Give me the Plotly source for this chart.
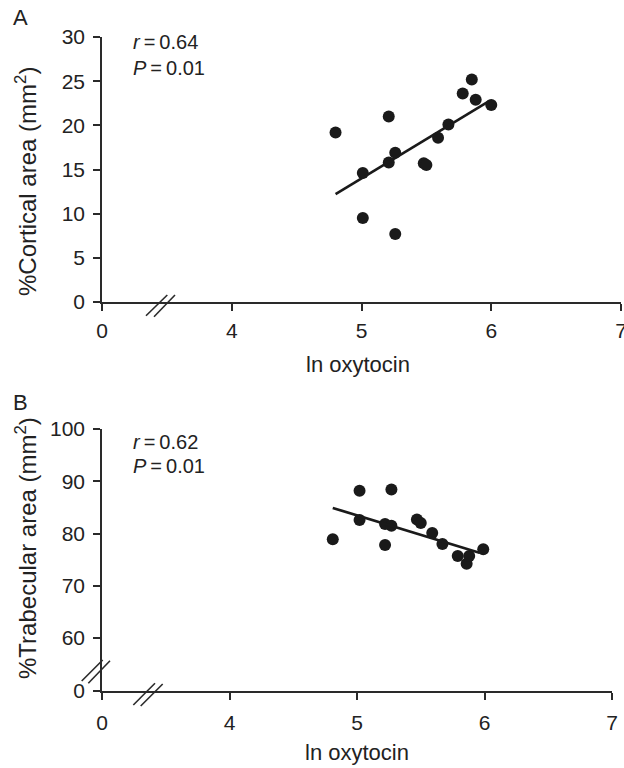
import plotly.graph_objects as go

# ---------------- data ----------------
# Panel A: cortical area vs ln oxytocin
a_x = [4.80, 5.01, 5.01, 5.21, 5.21, 5.26, 5.26, 5.48, 5.50, 5.59, 5.67, 5.78, 5.85, 5.88, 6.00]
a_y = [19.2, 14.6, 9.5, 21.0, 15.8, 16.9, 7.7, 15.7, 15.5, 18.6, 20.1, 23.6, 25.2, 22.9, 22.3]
a_fit_x = [4.80, 5.98]
a_fit_y = [12.2, 22.7]

# Panel B: trabecular area vs ln oxytocin
b_x = [4.81, 5.02, 5.02, 5.22, 5.22, 5.27, 5.27, 5.47, 5.50, 5.59, 5.67, 5.79, 5.86, 5.88, 5.99]
b_y = [78.9, 88.2, 82.6, 81.8, 77.8, 88.4, 81.5, 82.7, 82.0, 80.1, 78.0, 75.7, 74.2, 75.7, 77.0]
b_fit_x = [4.81, 5.96]
b_fit_y = [84.9, 76.3]

# axis ticks (broken axes: "0" drawn at the break position)
x_tickvals = [3, 4, 5, 6, 7]
x_ticktext = ["0", "4", "5", "6", "7"]
a_tickvals = [0, 5, 10, 15, 20, 25, 30]
a_ticktext = ["0", "5", "10", "15", "20", "25", "30"]
b_zero = 49.86
b_tickvals = [b_zero, 60, 70, 80, 90, 100]
b_ticktext = ["0", "60", "70", "80", "90", "100"]

# ---------------- layout helpers ----------------
W, H = 624, 768
L, R, T, B = 102, 3, 37, 77
PW = W - L - R
PH = H - T - B


def px(xp):
    return (xp - L) / PW


def py(yp):
    return (H - B - yp) / PH


FONT = "Liberation Sans, Arial, Helvetica, sans-serif"
INK = "#1a1a1a"
AXC = "#2a2a2a"

fig = go.Figure()

fig.add_trace(go.Scatter(x=a_x, y=a_y, mode="markers", xaxis="x", yaxis="y",
                         marker=dict(size=12, color=INK), showlegend=False))
fig.add_trace(go.Scatter(x=a_fit_x, y=a_fit_y, mode="lines", xaxis="x", yaxis="y",
                         line=dict(color=INK, width=2.6), showlegend=False))
fig.add_trace(go.Scatter(x=b_x, y=b_y, mode="markers", xaxis="x2", yaxis="y2",
                         marker=dict(size=12, color=INK), showlegend=False))
fig.add_trace(go.Scatter(x=b_fit_x, y=b_fit_y, mode="lines", xaxis="x2", yaxis="y2",
                         line=dict(color=INK, width=2.6), showlegend=False))

axis_common = dict(showgrid=False, zeroline=False, showline=True, linecolor=AXC, linewidth=1.5,
                   ticks="outside", ticklen=7, tickwidth=1.5, tickcolor=AXC,
                   ticklabeloverflow="allow",
                   tickfont=dict(family=FONT, size=21, color="#222"))

fig.update_layout(
    width=W, height=H,
    margin=dict(l=L, r=R, t=T, b=B, autoexpand=False),
    paper_bgcolor="white", plot_bgcolor="white",
    xaxis=dict(domain=[0, 1], range=[3, 7], tickvals=x_tickvals, ticktext=x_ticktext,
               anchor="y", ticklabelstandoff=2, **axis_common),
    yaxis=dict(domain=[py(302), 1], range=[0, 30], tickvals=a_tickvals, ticktext=a_ticktext,
               anchor="x", ticklabelstandoff=4, **axis_common),
    xaxis2=dict(domain=[0, px(612)], range=[3, 7], tickvals=x_tickvals, ticktext=x_ticktext,
                anchor="y2", ticklabelstandoff=5, **axis_common),
    yaxis2=dict(domain=[0, py(429)], range=[b_zero, 100], tickvals=b_tickvals, ticktext=b_ticktext,
                anchor="x2", ticklabelstandoff=4, **axis_common),
)

# ---------------- texts ----------------
def note(text, xp, yp, size, xanchor="center", angle=0):
    fig.add_annotation(text=text, xref="paper", yref="paper", x=px(xp), y=py(yp),
                       xanchor=xanchor, yanchor="middle", showarrow=False, textangle=angle,
                       font=dict(family=FONT, size=size, color="#222"))

note("A", 20, 17, 22)
note("B", 20, 402, 22)
note("<i>r</i>\u2009=\u20090.64", 131, 42.5, 20, xanchor="left")
note("<i>P</i>\u2009=\u20090.01", 131, 67.5, 20, xanchor="left")
note("<i>r</i>\u2009=\u20090.62", 131, 441.5, 20, xanchor="left")
note("<i>P</i>\u2009=\u20090.01", 131, 466.5, 20, xanchor="left")
note("%Cortical area (mm<sup>2</sup>)", 26, 182, 24, angle=-90)
note("%Trabecular area (mm<sup>2</sup>)", 26, 548, 24, angle=-90)
note("ln oxytocin", 358, 365, 22)
note("ln oxytocin", 357, 752, 22)

# ---------------- axis break marks (pixel positions -> paper) ----------------
def brk(x0, y0, x1, y1):
    fig.add_shape(type="line", xref="paper", yref="paper",
                  x0=px(x0), y0=py(y0), x1=px(x1), y1=py(y1),
                  line=dict(color=AXC, width=1.6), layer="above")

# top x-axis break
brk(146, 315.7, 167.3, 295)
brk(154, 316.7, 175, 295)
# bottom x-axis break
brk(133.3, 705, 155, 683.3)
brk(140.7, 706, 162.7, 684)
# bottom y-axis break
brk(81.7, 681, 102.7, 660)
brk(88.3, 683.3, 110, 660.7)

fig.write_html("out.html", config={"displayModeBar": False},
               post_script="document.body.style.margin='0';document.body.style.padding='0';")
